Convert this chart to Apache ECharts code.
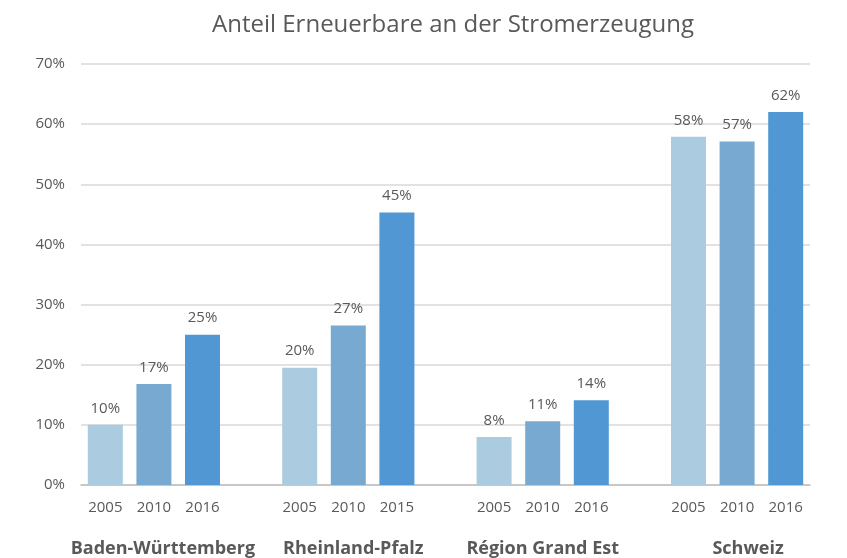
<!DOCTYPE html>
<html style="height: 100%">
<head>
<meta charset="UTF-8">
</head>
<body style="height: 100%; margin: 0; background: #fff">
<div id="container" style="width: 847px; height: 558px"></div>
<script type="text/javascript" src="https://cdn.jsdelivr.net/npm/echarts@6.0.0/dist/echarts.min.js"></script>
<script type="text/javascript">
// data
var groups = ['Baden-Württemberg', 'Rheinland-Pfalz', 'Région Grand Est', 'Schweiz'];
var years = [
    ['2005', '2010', '2016'],
    ['2005', '2010', '2015'],
    ['2005', '2010', '2016'],
    ['2005', '2010', '2016']
];
var values = [
    [10, 16.8, 25],
    [19.5, 26.5, 45.3],
    [8, 10.6, 14.1],
    [57.9, 57.1, 62]
];
var yTicks = [0, 10, 20, 30, 40, 50, 60, 70];
var colors = ['#abcbe0', '#78aad1', '#5097d3'];
var textColor = '#595959';
var font = 'Open Sans';
// group names sit a little right of the middle bar in the original
var groupShift = [18, 10, 0, 22];

// one slot per bar, plus an empty slot between groups
var slots = [], groupSlots = [], yearLabels = [], groupLabels = [], barData = [];
for (var g = 0; g < groups.length; g++) {
    for (var k = 0; k < 3; k++) {
        var id = 's' + slots.length;
        slots.push(id);
        groupSlots.push(k == 1 ? { value: id, textStyle: { padding: [0, 0, 0, groupShift[g]] } } : id);
        yearLabels.push(years[g][k]);
        groupLabels.push(k == 1 ? groups[g] : '');
        barData.push({ value: values[g][k], itemStyle: { color: colors[k] } });
    }
    if (g < groups.length - 1) {
        var gap = 's' + slots.length;
        slots.push(gap);
        groupSlots.push(gap);
        yearLabels.push('');
        groupLabels.push('');
        barData.push('-');
    }
}

var myChart = echarts.init(document.getElementById('container'));
var option = {
    backgroundColor: '#fff',
    animation: false,
    title: {
        text: 'Anteil Erneuerbare an der Stromerzeugung',
        left: 207,
        top: 8,
        textStyle: { fontFamily: font, fontSize: 24, fontWeight: 'normal', color: textColor }
    },
    grid: { left: 81, right: 37, top: 64, bottom: 73 },
    xAxis: [
        {
            type: 'category',
            data: slots,
            axisTick: { show: false },
            axisLine: { lineStyle: { color: '#bfbfbf', width: 1.5 } },
            axisLabel: {
                interval: 0,
                margin: 15,
                fontFamily: font,
                fontSize: 15,
                color: textColor,
                formatter: function (v, i) { return yearLabels[i]; }
            }
        },
        {
            type: 'category',
            data: groupSlots,
            position: 'bottom',
            offset: 47,
            axisTick: { show: false },
            axisLine: { show: false },
            axisLabel: {
                interval: 0,
                fontFamily: font,
                fontSize: 18,
                fontWeight: 'bold',
                color: textColor,
                formatter: function (v, i) { return groupLabels[i]; }
            }
        }
    ],
    yAxis: {
        type: 'value',
        min: yTicks[0],
        max: yTicks[yTicks.length - 1],
        interval: 10,
        axisLine: { show: false },
        axisTick: { show: false },
        splitLine: { lineStyle: { color: '#d9d9d9', width: 1.5 } },
        axisLabel: {
            margin: 16,
            fontFamily: font,
            fontSize: 15,
            color: textColor,
            formatter: '{value}%'
        }
    },
    series: [
        {
            type: 'bar',
            xAxisIndex: 0,
            barWidth: 35,
            data: barData,
            label: {
                show: true,
                position: 'top',
                distance: 9,
                fontFamily: font,
                fontSize: 15,
                color: textColor,
                formatter: function (p) { return Math.round(p.value) + '%'; }
            }
        }
    ]
};
option && myChart.setOption(option);
</script>
</body>
</html>
